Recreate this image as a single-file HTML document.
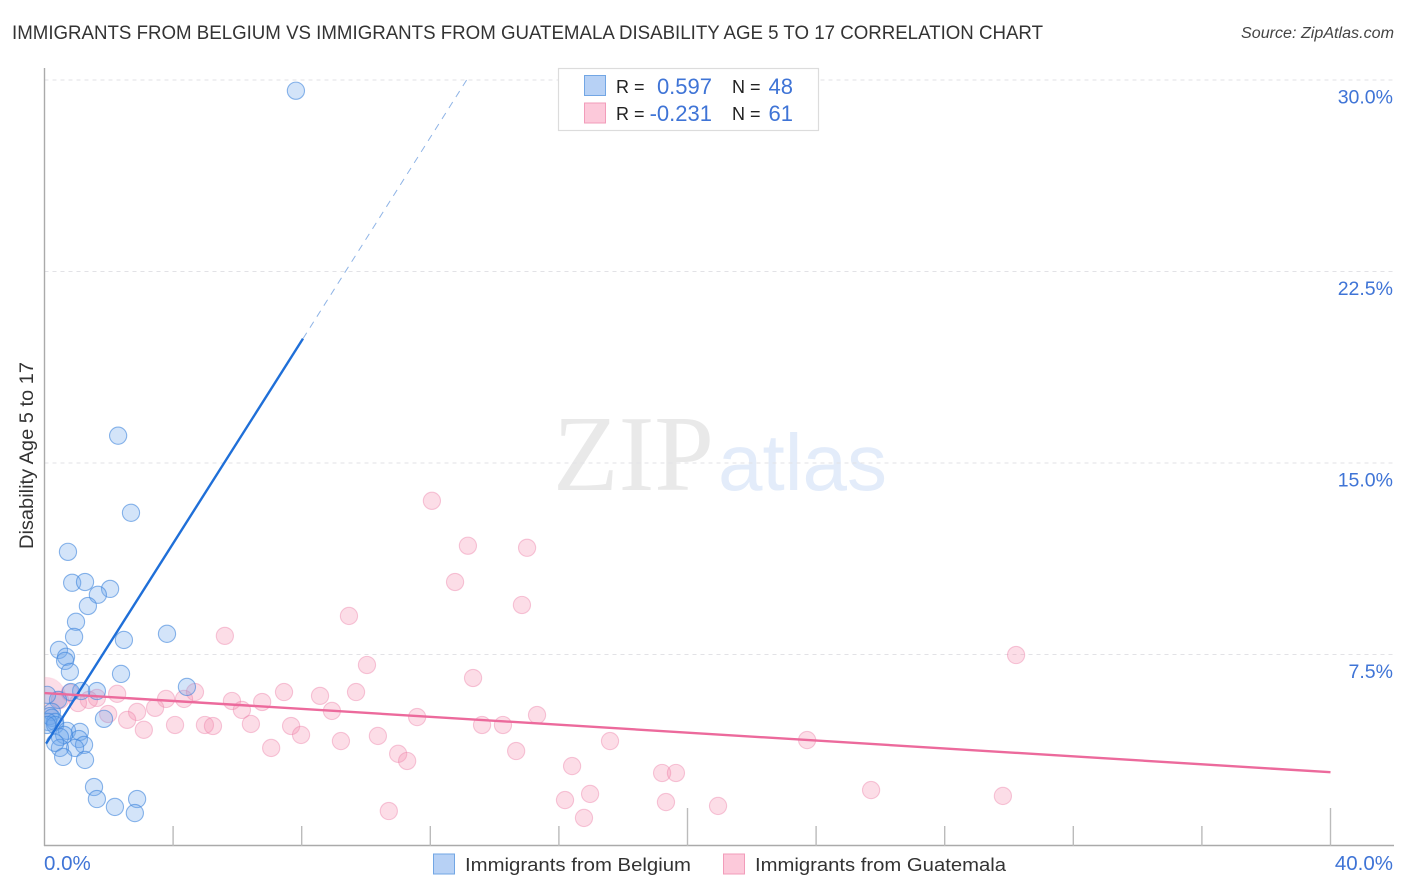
<!DOCTYPE html>
<html lang="en">
<head>
<meta charset="utf-8">
<title>Immigrants from Belgium vs Immigrants from Guatemala Disability Age 5 to 17 Correlation Chart</title>
<style>
html,body{margin:0;padding:0;background:#fff;width:1406px;height:892px;overflow:hidden}
svg{display:block;font-family:"Liberation Sans",sans-serif}
</style>
</head>
<body>
<svg id="chart" width="1406" height="892" viewBox="0 0 1406 892">
  <defs>
    <clipPath id="plot-clip"><rect x="44.5" y="60" width="1320" height="786"/></clipPath>
  </defs>
  <text x="12" y="39" font-size="19" fill="#333" textLength="1031" lengthAdjust="spacingAndGlyphs">IMMIGRANTS FROM BELGIUM VS IMMIGRANTS FROM GUATEMALA DISABILITY AGE 5 TO 17 CORRELATION CHART</text>
  <text x="1394" y="38" font-size="15.5" font-style="italic" fill="#444" text-anchor="end" textLength="153" lengthAdjust="spacingAndGlyphs">Source: ZipAtlas.com</text>
  <g>
    <text x="553" y="490" font-family="'Liberation Serif',serif" font-size="108" fill="#e9e9e9" textLength="161" lengthAdjust="spacingAndGlyphs">ZIP</text>
    <text x="718" y="490" font-size="80" fill="#e3ecfa" textLength="169" lengthAdjust="spacingAndGlyphs">atlas</text>
  </g>
  <g id="grid"></g>
  <g id="axes"></g>
  <g id="marks" clip-path="url(#plot-clip)"></g>
  <text transform="translate(33,455.5) rotate(-90)" font-size="19.5" fill="#333" text-anchor="middle" textLength="187" lengthAdjust="spacingAndGlyphs">Disability Age 5 to 17</text>

  <g>
    <rect x="558.5" y="68.5" width="260" height="62" fill="#fff" stroke="#dcdcdc" stroke-width="1.2"/>
    <rect x="584.5" y="75.5" width="21" height="20" fill="#b7d1f5" stroke="#72a6e4"/>
    <rect x="584.5" y="103" width="21" height="20" fill="#fcc9da" stroke="#f29cba"/>
    <text x="616" y="93" font-size="18" fill="#222">R =</text>
    <text x="712" y="94" font-size="22" fill="#3f74d6" text-anchor="end">0.597</text>
    <text x="732" y="93" font-size="18" fill="#222">N =</text>
    <text x="793" y="94" font-size="22" fill="#3f74d6" text-anchor="end">48</text>
    <text x="616" y="120" font-size="18" fill="#222">R =</text>
    <text x="712" y="121" font-size="22" fill="#3f74d6" text-anchor="end">-0.231</text>
    <text x="732" y="120" font-size="18" fill="#222">N =</text>
    <text x="793" y="121" font-size="22" fill="#3f74d6" text-anchor="end">61</text>
  </g>

  <g>
    <g>
      <rect x="433.5" y="854" width="21" height="20" fill="#b7d1f5" stroke="#72a6e4"/>
      <text x="465" y="871" font-size="18.5" fill="#333" textLength="226" lengthAdjust="spacingAndGlyphs">Immigrants from Belgium</text>
    </g>
    <g>
      <rect x="723.5" y="854" width="21" height="20" fill="#fcc9da" stroke="#f29cba"/>
      <text x="755" y="871" font-size="18.5" fill="#333" textLength="251" lengthAdjust="spacingAndGlyphs">Immigrants from Guatemala</text>
    </g>
  </g>
</svg>
<script>
const yTickValues = [7.5, 15, 22.5, 30];
const yTickLabels = ["7.5%", "15.0%", "22.5%", "30.0%"];
const xTickValues = [0, 4, 8, 12, 16, 20, 24, 28, 32, 36, 40];
const xEdgeLabels = ["0.0%", "40.0%"];
const belgiumX = [7.82,2.29,2.69,0.73,0.86,1.26,2.04,1.66,1.35,0.98,0.92,0.45,0.67,0.64,0.79,2.38,2.47,3.81,4.43,1.63,1.14,0.82,0.42,0.08,1.85,0.23,0.17,0.23,0.33,0.11,0.33,0.70,1.10,1.07,0.61,0.48,1.23,0.95,0.48,0.33,0.58,1.26,1.54,1.63,2.19,2.88,2.81,0.08];
const belgiumY = [29.58,16.07,13.05,11.52,10.31,10.34,10.07,9.84,9.40,8.78,8.19,7.68,7.41,7.25,6.82,6.74,8.07,8.31,6.23,6.07,6.07,6.03,5.72,5.92,4.98,5.25,5.09,5.02,4.86,4.86,4.74,4.51,4.47,4.19,4.35,4.27,3.96,3.84,3.84,4.04,3.49,3.37,2.31,1.84,1.53,1.84,1.29,4.74];
const guatemalaX = [12.05,13.17,15.01,12.77,14.85,9.47,5.61,30.22,10.03,13.33,9.69,7.45,8.57,4.68,3.78,4.34,2.26,1.63,1.38,1.04,0.79,0.48,5.83,6.77,8.94,6.14,3.44,2.88,1.98,2.57,3.09,4.06,4.99,5.24,6.42,7.67,7.98,9.22,10.37,7.05,11.59,13.61,14.26,15.32,11.00,11.28,14.67,17.59,16.41,23.72,19.21,19.64,25.71,16.97,16.19,19.33,20.95,29.81,10.71,16.78];
const guatemalaY = [13.52,11.76,11.68,10.34,9.44,9.01,8.23,7.48,7.09,6.58,6.03,6.03,5.88,6.03,5.76,5.76,5.96,5.80,5.72,5.60,6.00,5.72,5.68,5.64,5.29,5.33,5.41,5.25,5.17,4.94,4.55,4.74,4.74,4.70,4.78,4.70,4.35,4.11,4.31,3.84,5.05,4.74,4.74,5.13,3.61,3.33,3.72,4.11,3.13,4.15,2.86,2.86,2.19,2.04,1.80,1.72,1.57,1.96,1.37,1.10];
const guatemalaLargeX = [0.05];
const guatemalaLargeY = [5.84];
const belgiumTrendX = [0.05, 8.04];
const belgiumTrendY = [4.01, 19.87];
const belgiumTrendDashX = [8.04, 13.14];
const belgiumTrendDashY = [19.87, 30.02];
const guatemalaTrendX = [0, 40];
const guatemalaTrendY = [5.99, 2.89];

const NS = "http://www.w3.org/2000/svg";
const sx = function (v) { return 44.5 + v * 32.15; };
const sy = function (v) { return 846 - v * 25.533; };
const make = function (tag, parent, attrs) {
  const el = document.createElementNS(NS, tag);
  Object.keys(attrs).forEach(function (k) { el.setAttribute(k, attrs[k]); });
  parent.appendChild(el);
  return el;
};
const grid = document.getElementById("grid");
const axes = document.getElementById("axes");
const marks = document.getElementById("marks");

yTickValues.forEach(function (v, i) {
  const line = make("line", grid, {x1: 44.5, x2: 1393, y1: sy(v), y2: sy(v), stroke: "#e2e2e6", "stroke-width": 1, "stroke-dasharray": "4 4"});
  
  
  const label = make("text", axes, {x: 1393, y: sy(v) + 23.5, "font-size": 19.5, fill: "#3f74d6", "text-anchor": "end"});
  label.textContent = yTickLabels[i];
  
  
});

const yAxis = make("line", axes, {x1: 44.5, x2: 44.5, y1: 68, y2: 846, stroke: "#aaa", "stroke-width": 1.4});


const xAxis = make("line", axes, {x1: 44, x2: 1394, y1: 845.5, y2: 845.5, stroke: "#aaa", "stroke-width": 1.4});



xTickValues.forEach(function (v) {
  if (v === 0) return;
  const top = v % 20 === 0 ? 808 : 826;
  const tick = make("line", axes, {x1: sx(v), x2: sx(v), y1: top, y2: 846, stroke: "#bbb", "stroke-width": 1.4});
  
  
});

const xLabelLeft = make("text", axes, {x: 44, y: 870, "font-size": 20.5, fill: "#3f74d6"});
xLabelLeft.textContent = xEdgeLabels[0];


const xLabelRight = make("text", axes, {x: 1393, y: 870, "font-size": 20.5, fill: "#3f74d6", "text-anchor": "end"});
xLabelRight.textContent = xEdgeLabels[1];



guatemalaLargeX.forEach(function (v, i) {
  const big = make("circle", marks, {cx: sx(v), cy: sy(guatemalaLargeY[i]), r: 19.5, fill: "#f48fb1", "fill-opacity": 0.3, stroke: "#f48fb1", "stroke-opacity": 0.15});
  
  
});
guatemalaX.forEach(function (v, i) {
  const dot = make("circle", marks, {cx: sx(v), cy: sy(guatemalaY[i]), r: 8.6, fill: "#f48fb1", "fill-opacity": 0.3, stroke: "#ec7fa6", "stroke-opacity": 0.42, "stroke-width": 1.1});
  
  
});
belgiumX.forEach(function (v, i) {
  const dot = make("circle", marks, {cx: sx(v), cy: sy(belgiumY[i]), r: 8.6, fill: "#6ea6ea", "fill-opacity": 0.3, stroke: "#3f86dc", "stroke-opacity": 0.6, "stroke-width": 1.1});
  
  
});

const trendBelgium = make("line", marks, {x1: sx(belgiumTrendX[0]), y1: sy(belgiumTrendY[0]), x2: sx(belgiumTrendX[1]), y2: sy(belgiumTrendY[1]), stroke: "#1f6fd8", "stroke-width": 2.4});


const trendBelgiumDash = make("line", marks, {x1: sx(belgiumTrendDashX[0]), y1: sy(belgiumTrendDashY[0]), x2: sx(belgiumTrendDashX[1]), y2: sy(belgiumTrendDashY[1]), stroke: "#8fb4e6", "stroke-width": 1, "stroke-dasharray": "7 6"});


const trendGuatemala = make("line", marks, {x1: sx(guatemalaTrendX[0]), y1: sy(guatemalaTrendY[0]), x2: sx(guatemalaTrendX[1]), y2: sy(guatemalaTrendY[1]), stroke: "#ec6a9c", "stroke-width": 2.4});


</script>
</body>
</html>
